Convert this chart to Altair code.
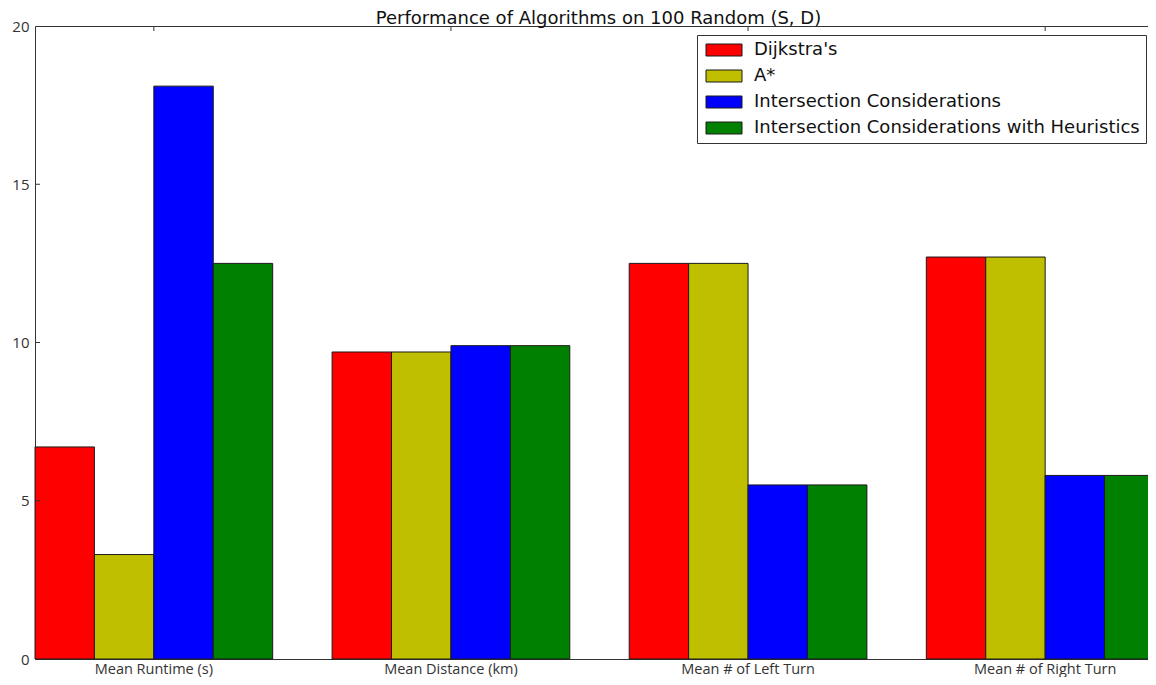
import altair as alt
import pandas as pd

metrics = ["Mean Runtime (s)", "Mean Distance (km)", "Mean # of Left Turn", "Mean # of Right Turn"]
algos = ["Dijkstra's", "A*", "Intersection Considerations", "Intersection Considerations with Heuristics"]
dijkstra = [6.7, 9.7, 12.5, 12.7]
astar = [3.3, 9.7, 12.5, 12.7]
inter = [18.1, 9.9, 5.5, 5.8]
inter_h = [12.5, 9.9, 5.5, 5.8]
colors = ["#ff0000", "#bfbf00", "#0000ff", "#008000"]
y_ticks = [0, 5, 10, 15, 20]
inner_ticks = [5, 10, 15]

series = [dijkstra, astar, inter, inter_h]
rows = []
for a, vals in zip(algos, series):
    for m, v in zip(metrics, vals):
        rows.append({"metric": m, "algo": a, "value": v})
df = pd.DataFrame(rows)
df_m = pd.DataFrame({"metric": metrics})
df_y = pd.DataFrame({"value": inner_ticks})

AX = "#333333"

bars = alt.Chart(df).mark_bar(stroke="#1a1a1a", strokeWidth=1).encode(
    x=alt.X("metric:N", sort=metrics,
            scale=alt.Scale(rangeMax=1129, paddingInner=0.2, paddingOuter=0),
            axis=alt.Axis(title=None, labelAngle=0, ticks=False, tickSize=0, domain=True,
                          domainColor=AX, domainWidth=1, labelFont="Open Sans",
                          labelFontSize=14.5, labelColor="#333", labelPadding=3)),
    xOffset=alt.XOffset("algo:N", sort=algos, scale=alt.Scale(paddingInner=0, paddingOuter=0)),
    y=alt.Y("value:Q", scale=alt.Scale(domain=[0, 20], nice=False),
            axis=alt.Axis(values=y_ticks, title=None, grid=False, ticks=False, tickSize=0,
                          domainColor=AX, domainWidth=1, labelFont="Open Sans",
                          labelFontSize=15, labelColor="#333", labelPadding=6)),
    color=alt.Color("algo:N", sort=algos, scale=alt.Scale(domain=algos, range=colors),
                    legend=alt.Legend(title=None, orient="none", legendX=662, legendY=9,
                                      symbolType="M-3,-1H3V1H-3Z", symbolSize=144,
                                      symbolOffset=12,
                                      symbolStrokeColor="#1a1a1a", symbolStrokeWidth=1,
                                      symbolOpacity=1,
                                      labelFont="DejaVu Sans", labelFontSize=18,
                                      labelColor="#111", labelOffset=21, labelLimit=600,
                                      rowPadding=8, padding=6, strokeColor=AX,
                                      fillColor="white", cornerRadius=0)),
)

top_ticks = alt.Chart(df_m).mark_rule(color=AX, strokeWidth=1).encode(
    x=alt.X("metric:N", sort=metrics, bandPosition=0.5,
            axis=alt.Axis(orient="top", labels=False, ticks=False, tickSize=0, domain=True,
                          domainColor=AX, domainWidth=1, title=None,
                          minExtent=0, maxExtent=0, labelPadding=0)),
    y=alt.value(0),
    y2=alt.value(5),
)

left_ticks = alt.Chart(df_y).mark_rule(color=AX, strokeWidth=1).encode(
    y=alt.Y("value:Q", title=None),
    x=alt.value(0),
    x2=alt.value(5),
)

chart = alt.layer(bars, top_ticks, left_ticks).resolve_axis(x="independent").properties(
    width=1113,
    height=633,
    padding={"left": 27, "top": 18, "right": 0, "bottom": 18},
    autosize=alt.AutoSizeParams(type="none"),
    title=alt.Title("Performance of Algorithms on 100 Random (S, D)", font="DejaVu Sans",
                    fontSize=18, fontWeight="normal", color="#111", anchor="middle",
                    offset=-9, dx=7),
).configure_view(stroke=None)

chart.save("out.html", embed_options={"renderer": "svg", "actions": False})
